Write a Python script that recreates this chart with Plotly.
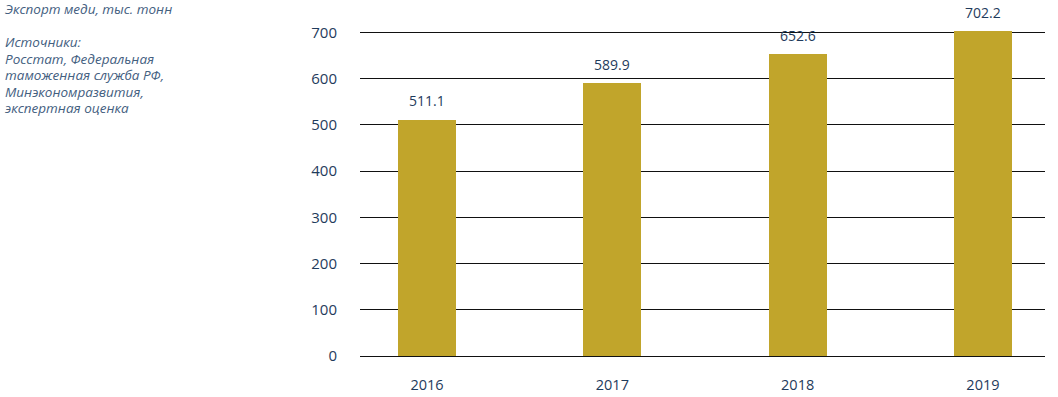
import plotly.graph_objects as go

years = ["2016", "2017", "2018", "2019"]
export_values = [511.1, 589.9, 652.6, 702.2]
value_labels = ["511.1", "589.9", "652.6", "702.2"]
y_ticks = [0, 100, 200, 300, 400, 500, 600, 700]

title_text = "Экспорт меди, тыс. тонн"
source_lines = ["Источники:", "Росстат, Федеральная", "таможенная служба РФ,", "Минэкономразвития,", "экспертная оценка"]

BAR = "#c1a52b"
TXT = "#1f3b5c"
NOTE = "#44607f"
FONT = "Open Sans"

W, H = 1058, 397
ML, MR, MT, MB = 360, 13, 30, 41
PW, PH = W - ML - MR, H - MT - MB

def px_x(x):
    return (x - ML) / PW

def px_y(y):
    return (H - MB - y) / PH

fig = go.Figure()
fig.add_trace(go.Bar(x=years, y=export_values, marker=dict(color=BAR, line=dict(width=0)),
                     width=0.313, hoverinfo="skip"))

annotations = []
for i, (v, lab) in enumerate(zip(export_values, value_labels)):
    annotations.append(dict(x=i, y=v, xref="x", yref="y", text=lab, showarrow=False,
                            yshift=19, yanchor="middle",
                            font=dict(family=FONT, size=14, color=TXT)))

annotations.append(dict(xref="paper", yref="paper", x=px_x(3), y=px_y(9),
                        text="<i>" + title_text + "</i>", showarrow=False,
                        xanchor="left", yanchor="middle",
                        font=dict(family=FONT, size=13.5, color=NOTE)))
for i, line in enumerate(source_lines):
    ypix = 42 + i * 16.5
    annotations.append(dict(xref="paper", yref="paper", x=px_x(3), y=px_y(ypix),
                            text="<i>" + line + "</i>", showarrow=False,
                            xanchor="left", yanchor="middle",
                            font=dict(family=FONT, size=13.5, color=NOTE)))

fig.update_layout(
    width=W, height=H,
    margin=dict(l=ML, r=MR, t=MT, b=MB, autoexpand=False),
    paper_bgcolor="white", plot_bgcolor="white",
    showlegend=False, bargap=0,
    font=dict(family=FONT, size=14, color=TXT),
    annotations=annotations,
    xaxis=dict(type="category", range=[-0.362, 3.335], showgrid=False, showline=False,
               zeroline=False, ticks="", ticklabelstandoff=18, automargin=False,
               tickfont=dict(family=FONT, size=14.5, color=TXT)),
    yaxis=dict(range=[0, 705], tickvals=y_ticks, showgrid=True, gridcolor="#111111",
               gridwidth=1, zeroline=True, zerolinecolor="#111111", zerolinewidth=1,
               showline=False, ticks="", ticklabelstandoff=22, automargin=False,
               tickfont=dict(family=FONT, size=15, color=TXT)),
)

fig.write_html("out.html", config={"displayModeBar": False},
               post_script="document.body.style.margin='0px';")
